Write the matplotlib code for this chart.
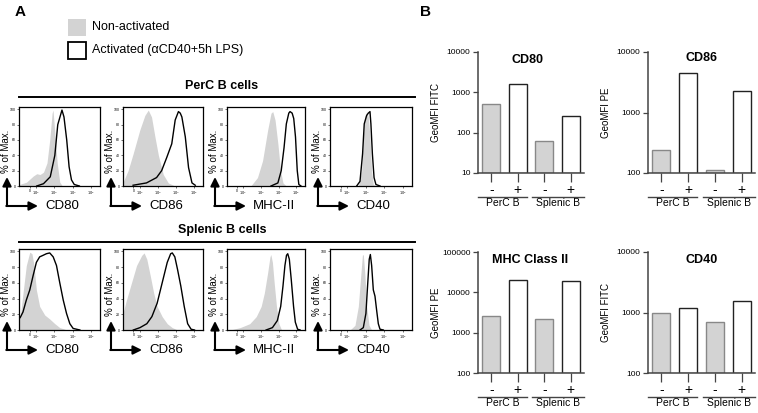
import matplotlib
matplotlib.use("Agg")
import matplotlib.pyplot as plt
from matplotlib.lines import Line2D
from matplotlib.patches import Rectangle, FancyArrowPatch
from matplotlib.ticker import FixedLocator, NullLocator, FuncFormatter
import matplotlib.transforms as mtransforms

plt.rcParams['font.family'] = ['Liberation Sans', 'DejaVu Sans']

W, H = 758, 413

# ---- panel A: histograms (x in decades of fluorescence, y in % of max) ----
perc_cd80_grey_u = [1.07, 1.10, 1.48, 1.85, 2.04, 2.22, 2.41, 2.60, 2.75, 2.88, 2.93, 3.03, 3.16, 3.30, 3.44]
perc_cd80_grey_y = [1, 2, 5, 13, 16, 15, 18, 30, 60, 95, 99, 70, 30, 5, 0]
perc_cd80_act_u = [2.04, 2.41, 2.78, 3.03, 3.19, 3.42, 3.53, 3.68, 3.81, 3.94, 4.09, 4.37]
perc_cd80_act_y = [0, 3, 12, 40, 80, 99, 90, 60, 25, 8, 2, 0]

perc_cd86_grey_u = [1.07, 1.11, 1.35, 1.63, 2.00, 2.28, 2.47, 2.65, 2.84, 3.03, 3.30, 3.58, 3.86]
perc_cd86_grey_y = [5, 7, 20, 42, 73, 92, 99, 90, 64, 40, 15, 4, 1]
perc_cd86_act_u = [1.63, 2.37, 2.93, 3.21, 3.49, 3.77, 3.96, 4.14, 4.24, 4.33, 4.52, 4.70, 4.89, 5.07]
perc_cd86_act_y = [1, 4, 11, 20, 37, 55, 86, 97, 95, 90, 64, 24, 4, 1]

perc_mhc_grey_u = [2.42, 2.80, 3.09, 3.38, 3.57, 3.67, 3.80, 3.96, 4.11, 4.25, 4.44]
perc_mhc_grey_y = [0, 11, 33, 73, 95, 97, 86, 55, 20, 4, 0]
perc_mhc_act_u = [3.57, 3.96, 4.15, 4.31, 4.44, 4.58, 4.65, 4.77, 4.86, 4.96, 5.06, 5.15, 5.27]
perc_mhc_act_y = [0, 4, 20, 50, 81, 95, 97, 95, 88, 64, 20, 2, 0]

perc_cd40_grey_u = [2.60, 2.78, 2.87, 2.96, 3.05, 3.14, 3.23, 3.32, 3.41, 3.59]
perc_cd40_grey_y = [0, 19, 64, 90, 97, 90, 64, 19, 2, 0]
perc_cd40_act_u = [2.51, 2.69, 2.83, 2.92, 3.05, 3.14, 3.23, 3.28, 3.36, 3.45, 3.55, 3.77]
perc_cd40_act_y = [0, 6, 42, 81, 92, 95, 97, 81, 42, 11, 2, 0]

spl_cd80_grey_u = [1.07, 1.14, 1.29, 1.47, 1.66, 1.78, 1.89, 2.02, 2.20, 2.48, 2.75, 3.03, 3.30, 3.58]
spl_cd80_grey_y = [12, 17, 47, 82, 99, 97, 82, 51, 30, 19, 14, 8, 3, 1]
spl_cd80_act_u = [1.07, 1.14, 1.29, 1.47, 1.66, 1.84, 2.02, 2.20, 2.39, 2.57, 2.75, 2.94, 3.12, 3.30, 3.49, 3.67, 3.85, 4.03, 4.40]
spl_cd80_act_y = [14, 16, 23, 38, 51, 69, 86, 93, 95, 97, 98, 93, 82, 60, 38, 21, 8, 2, 0]

spl_cd86_grey_u = [1.07, 1.11, 1.26, 1.54, 1.82, 2.11, 2.24, 2.39, 2.58, 2.77, 2.96, 3.24, 3.52, 3.80, 4.09]
spl_cd86_grey_y = [22, 25, 38, 60, 82, 95, 98, 90, 69, 47, 30, 17, 8, 3, 0]
spl_cd86_act_u = [1.64, 2.01, 2.39, 2.67, 2.96, 3.24, 3.52, 3.71, 3.80, 3.94, 4.09, 4.27, 4.46, 4.65, 4.84, 5.03]
spl_cd86_act_y = [0, 3, 8, 17, 34, 60, 86, 97, 98, 93, 77, 56, 30, 8, 1, 0]

spl_mhc_grey_u = [1.25, 1.81, 2.36, 2.73, 3.01, 3.19, 3.38, 3.51, 3.56, 3.65, 3.75, 3.88, 4.02, 4.17]
spl_mhc_grey_y = [0, 3, 8, 17, 30, 47, 73, 93, 96, 86, 60, 30, 8, 0]
spl_mhc_act_u = [3.29, 3.65, 3.93, 4.12, 4.25, 4.36, 4.45, 4.52, 4.61, 4.72, 4.85, 4.95, 5.08, 5.22]
spl_mhc_act_y = [0, 3, 12, 30, 56, 82, 95, 97, 90, 64, 30, 10, 1, 0]

spl_cd40_grey_u = [2.15, 2.42, 2.60, 2.73, 2.82, 2.87, 2.96, 3.05, 3.18, 3.32]
spl_cd40_grey_y = [0, 6, 30, 69, 95, 96, 69, 30, 6, 0]
spl_cd40_act_u = [2.69, 2.87, 3.01, 3.10, 3.19, 3.25, 3.32, 3.41, 3.50, 3.59, 3.68, 3.77, 3.95]
spl_cd40_act_y = [0, 3, 21, 56, 90, 96, 82, 51, 43, 25, 8, 1, 0]

markers = ['CD80', 'CD86', 'MHC-II', 'CD40']
hist_ticks = [1.65, 2, 3, 4, 5]
hist_ticklabels = ['0', r'$10^2$', r'$10^3$', r'$10^4$', r'$10^5$']

# ---- panel B: GeoMFI bars ----
bar_conditions = ['-', '+', '-', '+']
bar_groups = ['PerC B', 'Splenic B']
cd80_mfi = [500, 1590, 61, 255]
cd86_mfi = [237, 4450, 110, 2290]
mhc_mfi = [2550, 20300, 2190, 19500]
cd40_mfi = [1000, 1170, 689, 1530]

GREY = '#d3d3d3'

fig = plt.figure(figsize=(W / 100, H / 100), dpi=100)


def fx(x):
    return x / W


def fy(y):
    return 1 - y / H


def px_axes(l, t, r, b):
    return fig.add_axes([fx(l), fy(b), (r - l) / W, (b - t) / H])


def hist_panel(l, t, r, b, gu, gy, au, ay, label):
    ax = px_axes(l, t, r, b)
    ax.fill_between(gu, gy, 0, color=GREY, lw=0)
    ax.plot(au, ay, color='black', lw=1.0)
    ax.set_xlim(1.07, 5.5)
    ax.set_ylim(0, 103)
    ax.set_xticks(hist_ticks)
    ax.set_xticklabels(hist_ticklabels)
    ax.set_yticks([0, 20, 40, 60, 80, 100])
    ax.tick_params(labelsize=2.5, length=1.5, width=0.4, pad=1)
    for s in ax.spines.values():
        s.set_linewidth(0.9)
    # y label + axis arrows
    fig.text(fx(l - 13), fy((t + b) / 2 + 5), '% of Max.', rotation=90,
             fontsize=7, ha='center', va='center')
    ax_x = l - 12
    base_y = b + 20
    arrow = dict(arrowstyle='-|>', lw=1.5, color='black', mutation_scale=13,
                 shrinkA=0, shrinkB=0)
    fig.add_artist(FancyArrowPatch(
        (fx(ax_x), fy(base_y)), (fx(ax_x), fy(b - 9)),
        transform=fig.transFigure, **arrow))
    fig.add_artist(FancyArrowPatch(
        (fx(ax_x - 0.7), fy(base_y)), (fx(ax_x + 31), fy(base_y)),
        transform=fig.transFigure, **arrow))
    fig.text(fx(ax_x + 38), fy(base_y), label, fontsize=9.5, ha='left', va='center')
    return ax


box_x = [(19, 100), (123, 203), (227, 305), (330, 412)]
perc_curves = [
    (perc_cd80_grey_u, perc_cd80_grey_y, perc_cd80_act_u, perc_cd80_act_y),
    (perc_cd86_grey_u, perc_cd86_grey_y, perc_cd86_act_u, perc_cd86_act_y),
    (perc_mhc_grey_u, perc_mhc_grey_y, perc_mhc_act_u, perc_mhc_act_y),
    (perc_cd40_grey_u, perc_cd40_grey_y, perc_cd40_act_u, perc_cd40_act_y),
]
spl_curves = [
    (spl_cd80_grey_u, spl_cd80_grey_y, spl_cd80_act_u, spl_cd80_act_y),
    (spl_cd86_grey_u, spl_cd86_grey_y, spl_cd86_act_u, spl_cd86_act_y),
    (spl_mhc_grey_u, spl_mhc_grey_y, spl_mhc_act_u, spl_mhc_act_y),
    (spl_cd40_grey_u, spl_cd40_grey_y, spl_cd40_act_u, spl_cd40_act_y),
]
for (l, r), c, m in zip(box_x, perc_curves, markers):
    hist_panel(l, 107, r, 186, *c, m)
for (l, r), c, m in zip(box_x, spl_curves, markers):
    hist_panel(l, 249, r, 330, *c, m)

# row headers
for txt, ty, ly in [('PerC B cells', 86, 97), ('Splenic B cells', 230, 242)]:
    fig.text(fx(222), fy(ty), txt, fontsize=9, fontweight='bold', ha='center', va='center')
    fig.add_artist(Line2D([fx(19), fx(415)], [fy(ly), fy(ly)], color='black', lw=1.4))

# legend
fig.add_artist(Rectangle((fx(68), fy(36)), 18 / W, 17 / H, facecolor=GREY,
                         edgecolor='none', transform=fig.transFigure))
fig.add_artist(Rectangle((fx(68), fy(59)), 18 / W, 17 / H, facecolor='white',
                         edgecolor='black', lw=1.3, transform=fig.transFigure))
fig.text(fx(92), fy(27), 'Non-activated', fontsize=9, va='center')
fig.text(fx(92), fy(50), 'Activated (αCD40+5h LPS)', fontsize=9, va='center')

fig.text(fx(15), fy(12), 'A', fontsize=11, fontweight='bold', va='center')
fig.text(fx(420), fy(12), 'B', fontsize=11, fontweight='bold', va='center')


# ---- bar charts ----
def bar_panel(l, t, r, b, vals, ylim, title, ylabel, tx, ty):
    ax = px_axes(l, t, r, b)
    x = list(range(len(vals)))
    colors = [GREY, 'white', GREY, 'white']
    edges = ['#888888', '#222222', '#888888', '#222222']
    heights = [v - ylim[0] for v in vals]
    ax.bar(x, heights, width=0.68, color=colors, edgecolor=edges, linewidth=1.0,
           bottom=ylim[0])
    ax.set_yscale('log')
    ax.set_ylim(*ylim)
    ax.set_xlim(-0.5, 3.5)
    dec = [ylim[0] * 10 ** i for i in range(6) if ylim[0] * 10 ** i <= ylim[1]]
    ax.yaxis.set_major_locator(FixedLocator(dec))
    ax.yaxis.set_minor_locator(NullLocator())
    ax.yaxis.set_major_formatter(FuncFormatter(lambda v, p: '%d' % round(v)))
    ax.set_xticks(x)
    ax.set_xticklabels(bar_conditions, fontsize=10)
    ax.tick_params(axis='x', length=6.5, width=0.9, pad=1, colors='#444444',
                   labelcolor='black')
    ax.tick_params(axis='y', length=3.5, width=0.9, pad=2, labelsize=6,
                   colors='#444444', labelcolor='black')
    for s in ['top', 'right']:
        ax.spines[s].set_visible(False)
    for s in ['left', 'bottom']:
        ax.spines[s].set_linewidth(1.1)
        ax.spines[s].set_color('#444444')
    ax.set_ylabel(ylabel, fontsize=7)
    ax.yaxis.set_label_coords(-0.35, 0.5)
    ax.text(tx, ty, title, transform=ax.transAxes, fontsize=9, fontweight='bold',
            ha='center', va='center')
    trans = mtransforms.blended_transform_factory(ax.transData, ax.transAxes)
    for (x0, x1), g in zip([(-0.5, 1.35), (1.55, 3.5)], bar_groups):
        ax.add_line(Line2D([x0, x1], [-0.198, -0.198], transform=trans,
                           color='#444444', lw=1.0, clip_on=False))
        ax.text((x0 + x1) / 2, -0.252, g, transform=trans, fontsize=7.5,
                ha='center', va='center')
    return ax


bar_panel(478, 52, 584, 173, cd80_mfi, (10, 10000), 'CD80', 'GeoMFI FITC', 0.47, 0.934)
bar_panel(648, 52, 755, 173, cd86_mfi, (100, 10000), 'CD86', 'GeoMFI PE', 0.50, 0.95)
bar_panel(478, 252, 584, 373, mhc_mfi, (100, 100000), 'MHC Class II', 'GeoMFI PE', 0.49, 0.934)
bar_panel(648, 252, 755, 373, cd40_mfi, (100, 10000), 'CD40', 'GeoMFI FITC', 0.50, 0.934)

fig.savefig('out.png', dpi=100)
